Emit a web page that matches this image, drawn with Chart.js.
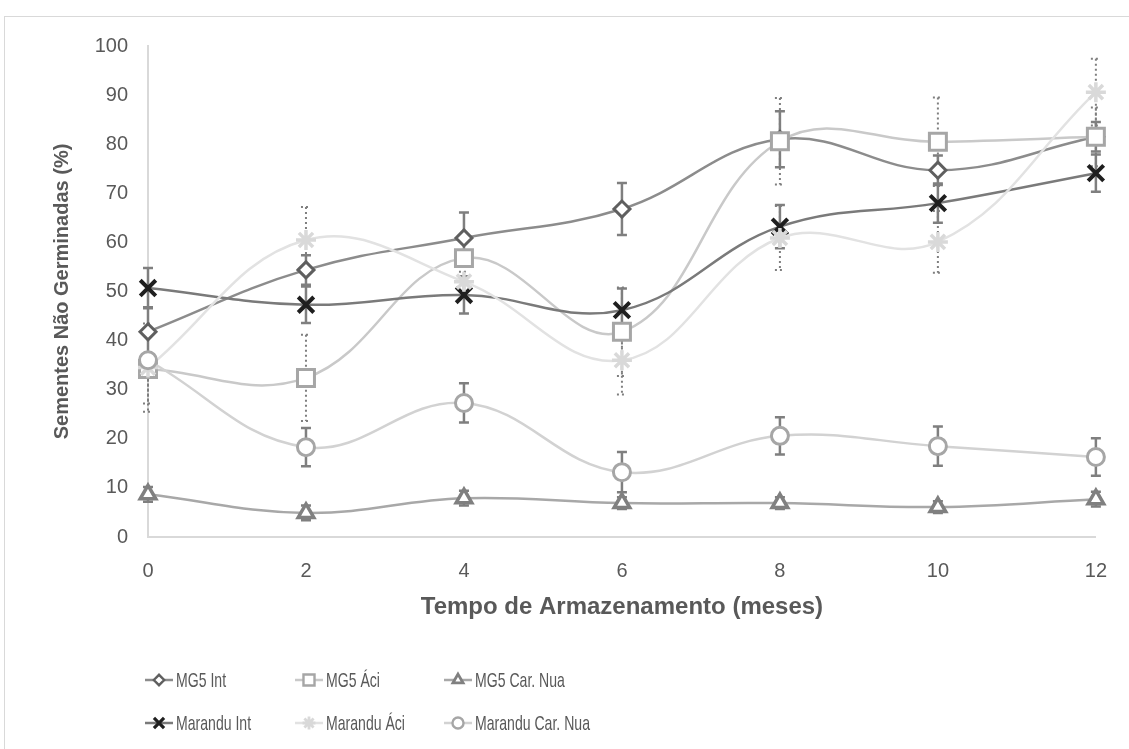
<!DOCTYPE html>
<html>
<head>
<meta charset="utf-8">
<script src="https://cdn.jsdelivr.net/npm/chart.js@4.4.1/dist/chart.umd.min.js"></script>
<style>
  html, body { margin: 0; padding: 0; background: #ffffff; }
  #wrap { position: relative; width: 1129px; height: 749px; overflow: hidden; }
  #frame { position: absolute; left: 4px; top: 16px; width: 1160px; height: 780px; border: 1px solid #d9d9d9; box-sizing: border-box; }
  canvas { position: absolute; left: 0; top: 0; }
</style>
</head>
<body>
<div id="wrap">
  <div id="frame"></div>
  <canvas id="chart" width="1129" height="749"></canvas>
</div>
<script>
// Storage time (months)
const months = ['0', '2', '4', '6', '8', '10', '12'];

// Non-germinated seeds (%) per treatment, with error half-widths
const mg5Int = [41.8, 54.4, 60.9, 66.8, 81.0, 74.7, 81.5];
const mg5IntErr = [5.0, 3.0, 5.2, 5.3, 5.7, 3.0, 3.0];

const mg5Aci = [34.2, 32.4, 56.8, 41.8, 80.6, 80.5, 81.5];
const mg5AciErr = [7.0, 8.8, 1.5, 9.0, 8.8, 9.0, 6.0];

const mg5CarNua = [8.7, 4.9, 7.9, 6.9, 6.9, 6.1, 7.7];
const mg5CarNuaErr = [1.5, 1.5, 1.5, 1.2, 1.2, 1.2, 1.5];

const marInt = [50.7, 47.3, 49.3, 46.2, 63.2, 68.0, 74.1];
const marIntErr = [4.1, 3.7, 3.8, 4.4, 4.4, 4.0, 3.8];

const marAci = [34.5, 60.5, 52.0, 36.0, 60.9, 60.1, 90.6];
const marAciErr = [9.0, 6.7, 2.0, 7.0, 6.5, 6.3, 6.8];

const marCarNua = [36.0, 18.3, 27.3, 13.2, 20.6, 18.5, 16.3];
const marCarNuaErr = [1.0, 3.9, 4.0, 4.1, 3.8, 4.0, 3.8];

const yTicks = [0, 10, 20, 30, 40, 50, 60, 70, 80, 90, 100];

const TEXT = '#595959';
const ERR = '#7f7f7f';
const FONT = '"Liberation Sans", Arial, sans-serif';

function series(label, data, err, dotted, line, marker, style, radius, bw, fill) {
  return {
    label, data, err, dotted,
    borderColor: line, borderWidth: 2.5,
    pointStyle: style, pointRadius: radius, pointHoverRadius: radius,
    pointBorderColor: marker, pointBackgroundColor: fill,
    pointBorderWidth: bw, pointHoverBorderWidth: bw,
    tension: 0.4, fill: false
  };
}

const datasets = [
  series('MG5 Int', mg5Int, mg5IntErr, false, '#8c8c8c', '#5f5f5f', 'rectRot', 8, 3, '#ffffff'),
  series('MG5 Áci', mg5Aci, mg5AciErr, true, '#c9c9c9', '#a6a6a6', 'rect', 12, 3, '#ffffff'),
  series('MG5 Car. Nua', mg5CarNua, mg5CarNuaErr, false, '#a8a8a8', '#808080', 'triangle', 9, 3.5, '#ffffff'),
  series('Marandu Int', marInt, marIntErr, false, '#7a7a7a', '#1f1f1f', 'crossRot', 11, 4, '#1f1f1f'),
  series('Marandu Áci', marAci, marAciErr, true, '#e2e2e2', '#d9d9d9', 'star', 10, 3.5, '#d9d9d9'),
  series('Marandu Car. Nua', marCarNua, marCarNuaErr, false, '#d2d2d2', '#a6a6a6', 'circle', 8.5, 3, '#ffffff')
];
datasets.forEach((d, i) => { d.order = -i; });

// Vertical error bars with caps
const errorBars = {
  id: 'errorBars',
  beforeDatasetsDraw(chart) {
    const ctx = chart.ctx;
    const y = chart.scales.y;
    chart.data.datasets.forEach((ds, i) => {
      const meta = chart.getDatasetMeta(i);
      ctx.save();
      ctx.strokeStyle = ERR;
      ctx.lineWidth = ds.dotted ? 2 : 2.5;
      ctx.setLineDash(ds.dotted ? [2, 3] : []);
      meta.data.forEach((pt, j) => {
        const v = ds.data[j], e = ds.err[j];
        const top = y.getPixelForValue(v + e);
        const bot = y.getPixelForValue(v - e);
        const x = pt.x;
        ctx.beginPath();
        ctx.moveTo(x, top); ctx.lineTo(x, bot);
        ctx.moveTo(x - 5, top); ctx.lineTo(x + 5, top);
        ctx.moveTo(x - 5, bot); ctx.lineTo(x + 5, bot);
        ctx.stroke();
      });
      ctx.restore();
    });
  }
};

// Two-row legend with line + marker samples
const legendRows = {
  id: 'legendRows',
  afterDraw(chart) {
    const ctx = chart.ctx;
    const cols = [145, 295, 444];
    const rows = [680, 723];
    chart.data.datasets.forEach((ds, i) => {
      const cx = cols[i % 3];
      const cy = rows[Math.floor(i / 3)];
      ctx.save();
      ctx.strokeStyle = ds.borderColor;
      ctx.lineWidth = 2.5;
      ctx.beginPath();
      ctx.moveTo(cx, cy); ctx.lineTo(cx + 28, cy);
      ctx.stroke();
      ctx.strokeStyle = ds.pointBorderColor;
      ctx.fillStyle = ds.pointBackgroundColor;
      ctx.lineWidth = ds.pointBorderWidth * 0.8;
      Chart.helpers.drawPoint(ctx, {
        pointStyle: ds.pointStyle,
        radius: ds.pointRadius * 0.65,
        borderWidth: ds.pointBorderWidth * 0.8,
        rotation: 0
      }, cx + 14, cy);
      ctx.restore();
      ctx.save();
      ctx.fillStyle = TEXT;
      ctx.font = '21px ' + FONT;
      ctx.textBaseline = 'middle';
      ctx.translate(cx + 31, cy + 1);
      ctx.scale(0.67, 1);
      ctx.fillText(ds.label, 0, 0);
      ctx.restore();
    });
  }
};

new Chart(document.getElementById('chart'), {
  type: 'line',
  data: { labels: months, datasets },
  options: {
    responsive: false,
    devicePixelRatio: 1,
    animation: false,
    events: [],
    layout: { padding: { left: 0, top: 46, right: 31, bottom: 127 } },
    plugins: { legend: { display: false }, tooltip: { enabled: false } },
    scales: {
      x: {
        type: 'category',
        offset: false,
        grid: { display: false, drawTicks: false },
        border: { display: true, color: '#d9d9d9', width: 2 },
        ticks: { color: TEXT, font: { family: FONT, size: 20 }, padding: 22, maxRotation: 0 },
        title: { display: true, text: 'Tempo de Armazenamento (meses)', color: TEXT,
                 font: { family: FONT, size: 24, weight: 'bold' },
                 padding: { top: 0, bottom: 0 } },
        afterFit(scale) { scale.height = 749 - 127 - 537; }
      },
      y: {
        min: 0, max: 100,
        grid: { display: false, drawTicks: false },
        border: { display: true, color: '#d9d9d9', width: 2 },
        afterBuildTicks(scale) { scale.ticks = yTicks.map(v => ({ value: v })); },
        ticks: { color: TEXT, font: { family: FONT, size: 20 }, padding: 20 },
        title: { display: true, text: 'Sementes Não Germinadas (%)', color: TEXT,
                 font: { family: FONT, size: 20, weight: 'bold' },
                 padding: { top: 50, bottom: 0 } },
        afterFit(scale) { scale.width = 148; }
      }
    }
  },
  plugins: [errorBars, legendRows]
});
</script>
</body>
</html>
